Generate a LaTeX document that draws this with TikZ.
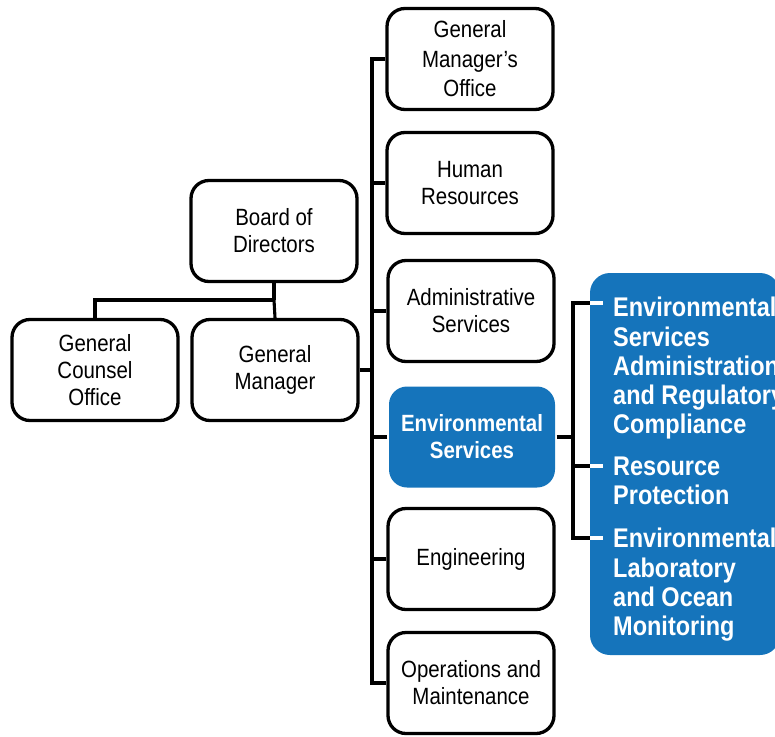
\documentclass[tikz,border=0pt]{standalone}
\usepackage{fontspec}
\setmainfont{Liberation Sans}[FakeStretch=0.87]
\usepackage{tikz}
\definecolor{esblue}{RGB}{21,116,187}
\tikzstyle{unit}=[draw=black, line width=3.3, rounded corners=18, minimum width=166, minimum height=101, align=center, inner sep=0, font=\fontsize{23.5}{27}\selectfont]
\tikzstyle{hilite}=[unit, draw=none, fill=esblue, text=white, font=\fontsize{23.5}{27}\selectfont\bfseries]
\tikzstyle{subtext}=[anchor=north west, inner sep=0, align=left, text=white, font=\fontsize{27}{29.3}\selectfont\bfseries]
\tikzstyle{link}=[draw=black, line width=3.1]

\begin{document}
\begin{tikzpicture}[x=1pt, y=-1pt]
		   \useasboundingbox (0,0) rectangle (775,736);
		   \begin{scope}
			   \node (board) at (274, 231)[unit] {Board of\\Directors};
			   \node (counsel) at (95, 370)[unit] {General\\Counsel\\Office};
			   \node (gm) at (275, 370)[unit] {General\\Manager};

			   \node (gmo) at (470, 59)[unit, font=\fontsize{23.5}{29.5}\selectfont] {General\\Manager’s\\Office};
			   \node (hr) at (470, 183)[unit] {Human\\Resources};
			   \node (admin) at (471, 311)[unit] {Administrative\\Services};
			   \node (envserv) at (472, 437)[hilite] {Environmental\\Services};
			   \node (eng) at (471, 559)[unit] {Engineering};
			   \node (ops) at (471, 683)[unit] {Operations and\\Maintenance};

			   \node (esbox) at (685, 464)[fill=esblue, rounded corners=20, minimum width=190, minimum height=382] {};
			   \node (esarc) at (613, 297)[subtext] {Environmental\\Services\\Administration\\and Regulatory\\Compliance};
			   \node (rp) at (613, 456.5)[subtext] {Resource\\Protection};
			   \node (elom) at (613, 528)[subtext] {Environmental\\Laboratory\\and Ocean\\Monitoring};
		   \end{scope}
		   \begin{scope}
			   \coordinate (bj) at (274, 300);
			   \coordinate (sp) at (372, 0);
			   \coordinate (sj) at (573, 0);
			   \coordinate (b1) at (590, 303);
			   \coordinate (b2) at (590, 466);
			   \coordinate (b3) at (590, 538);

			   \path [link] (board) edge (bj);
			   \path [link] (bj) edge (gm.north);
			   \draw [link] (bj) -| (counsel.north);

			   \draw [link] (gmo.west) -| (sp |- ops.west) -- (ops.west);
			   \draw [link] (gm.east) -- (gm.east -| sp);
			   \foreach \n in {hr, admin, envserv, eng}
				   \draw [link] (\n.west) -- (\n.west -| sp);

			   \draw [link] (envserv.east) -- (envserv.east -| sj);
			   \draw [link] (b1) -- (b1 -| sj) -- (b3 -| sj) -- (b3);
			   \draw [link] (b2 -| sj) -- (b2);
			   \foreach \b in {b1, b2, b3}
				   \draw [line width=3.1, white] (\b) -- ++(13, 0);
		   \end{scope}
	   \end{tikzpicture}
\end{document}
